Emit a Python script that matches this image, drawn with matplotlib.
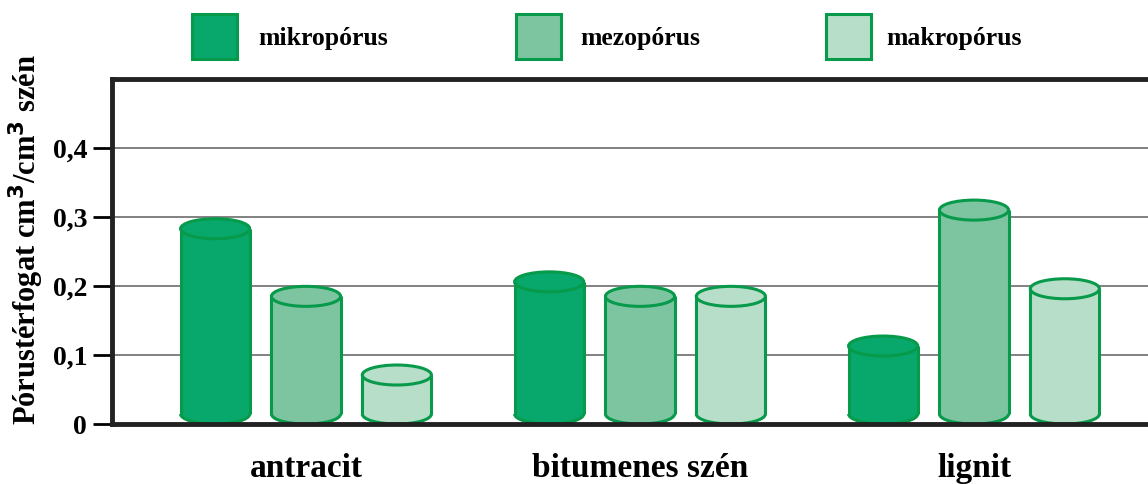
import matplotlib.pyplot as plt
from matplotlib.patches import Ellipse, Rectangle, Arc

plt.rcParams['font.family'] = ['Liberation Serif', 'DejaVu Serif']
plt.rcParams['font.weight'] = 'bold'

# pore volume, cm3/cm3 coal
categories = ['antracit', 'bitumenes szén', 'lignit']
series = ['mikropórus', 'mezopórus', 'makropórus']
mikro = [0.283, 0.206, 0.113]
mezo = [0.185, 0.185, 0.310]
makro = [0.071, 0.185, 0.196]
yticks = [0, 0.1, 0.2, 0.3, 0.4]
ytick_labels = ['0', '0,1', '0,2', '0,3', '0,4']

colors = ['#08a86c', '#7dc5a0', '#b7dec8']
edge = '#069a4a'

W, H = 1148, 484
fig = plt.figure(figsize=(W / 100, H / 100), dpi=100)
ax = fig.add_axes([112 / W, 1 - 424 / H, 1 - 112 / W, 345 / H])

offsets = [-0.272, 0, 0.272]
bw = 0.207
e = 0.0145  # half height of the cylinder caps, data units


def cylinder(ax, x, v, fc):
    left = x - bw / 2
    ax.add_patch(Ellipse((x, e), bw, 2 * e, fc=fc, ec='none', zorder=3))
    ax.add_patch(Rectangle((left, e), bw, v - e, fc=fc, ec='none', zorder=4))
    ax.plot([left, left], [e, v], color=edge, lw=2.2, zorder=5, solid_capstyle='butt')
    ax.plot([left + bw, left + bw], [e, v], color=edge, lw=2.2, zorder=5, solid_capstyle='butt')
    ax.add_patch(Arc((x, e), bw, 2 * e, theta1=180, theta2=360, ec=edge, lw=2.2, zorder=5))
    ax.add_patch(Ellipse((x, v), bw, 2 * e, fc=fc, ec=edge, lw=2.2, zorder=6))


for vals, off, c in zip([mikro, mezo, makro], offsets, colors):
    for i, v in enumerate(vals):
        cylinder(ax, i + off, v, c)

ax.set_xlim((112 - 306) / 334, (1148 - 306) / 334)
ax.set_ylim(0, 0.5)

for y in yticks[1:]:
    ax.axhline(y, color='#777777', lw=1.3, zorder=1)

ax.set_yticks(yticks)
ax.set_yticklabels(ytick_labels, fontsize=20, fontweight='bold')
ax.tick_params(axis='y', direction='out', length=14, width=2, pad=4)
ax.set_xticks(range(len(categories)))
ax.set_xticklabels(categories, fontsize=24, fontweight='bold')
ax.tick_params(axis='x', length=0, pad=21)

ax.spines['right'].set_visible(False)
for s in ['left', 'top', 'bottom']:
    ax.spines[s].set_linewidth(3.5)
    ax.spines[s].set_color('#222222')
    ax.spines[s].set_zorder(10)

ax.set_ylabel('Pórustérfogat cm$^{\\mathbf{3}}$/cm$^{\\mathbf{3}}$ szén', fontsize=22,
              fontweight='bold')
ax.yaxis.set_label_coords((46 - 112) / 1036, (424 - 240) / 345)

# legend row above the plot
for xs, xt, name, c in zip([192, 516, 826], [258, 580, 886], series, colors):
    fig.add_artist(Rectangle((xs / W, 1 - 59 / H), 45 / W, 45 / H, fc=c, ec=edge, lw=2.2,
                             transform=fig.transFigure))
    fig.text(xt / W, 1 - 39 / H, name, fontsize=18.5, fontweight='bold', va='center', ha='left')

fig.savefig('out.png', dpi=100)
